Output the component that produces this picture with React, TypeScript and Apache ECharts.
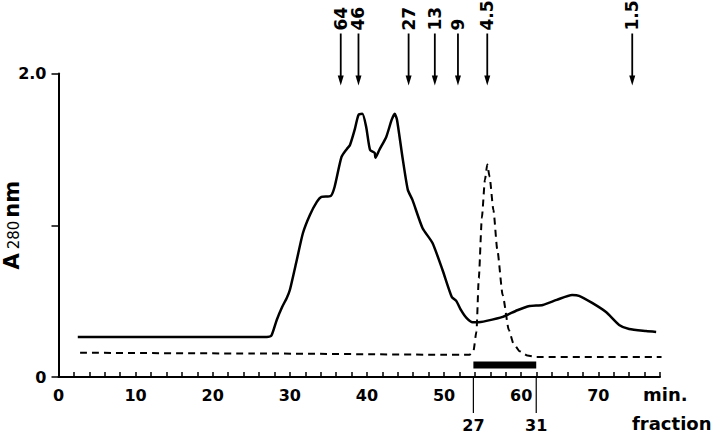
import React, { useEffect, useRef } from "react";
import * as echarts from "echarts";

// Solid trace: A280 vs time (min)
const solidTrace: number[][] = [
  [2.5, 0.264], [27.0, 0.264], [27.6, 0.272], [28.3, 0.376], [29.0, 0.461], [29.6, 0.521],
  [30.0, 0.573], [30.9, 0.771], [31.7, 0.949], [32.6, 1.068], [33.5, 1.154], [34.1, 1.187],
  [35.3, 1.193], [35.8, 1.252], [36.7, 1.45], [37.4, 1.503], [37.8, 1.529], [38.4, 1.628],
  [38.9, 1.727], [39.4, 1.734], [39.9, 1.648], [40.4, 1.496], [41.0, 1.477], [41.1, 1.444],
  [41.6, 1.496], [42.5, 1.582], [43.2, 1.694], [43.6, 1.734], [43.9, 1.694], [44.6, 1.45],
  [45.3, 1.233], [45.9, 1.167], [47.2, 0.982], [48.5, 0.883], [49.8, 0.705], [51.0, 0.527],
  [51.6, 0.5], [52.2, 0.44], [52.9, 0.389], [53.7, 0.36], [54.3, 0.36], [55.5, 0.37],
  [57.6, 0.396], [59.5, 0.44], [61.1, 0.468], [62.8, 0.475], [64.6, 0.508], [66.6, 0.54],
  [67.5, 0.535], [69.2, 0.488], [71.0, 0.428], [72.7, 0.343], [74.0, 0.316], [76.2, 0.303],
  [77.5, 0.297],
];

// Dashed trace
const dashedTrace: number[][] = [
  [2.8, 0.16], [25, 0.155], [50, 0.147], [53.3, 0.146], [53.8, 0.17], [54.2, 0.3],
  [54.5, 0.65], [54.9, 1.05], [55.3, 1.3], [55.6, 1.4], [55.9, 1.32], [56.4, 1.1],
  [56.9, 0.84], [57.6, 0.54], [58.4, 0.31], [59.0, 0.22], [59.8, 0.17], [60.8, 0.142],
  [62.0, 0.132], [70, 0.132], [78.2, 0.132],
];

// Molecular-weight markers (arrows)
const markerTimes: number[] = [36.6, 38.9, 45.4, 48.8, 51.8, 55.6, 74.4];
const markerLabels: string[] = ["64", "46", "27", "13", "9", "4.5", "1.5"];

// Collected fractions
const fractionTimes: number[] = [53.8, 61.95];
const fractionLabels: string[] = ["27", "31"];
const poolBar: number[][] = [[53.8, 0.079], [61.95, 0.079]];

const FONT = "DejaVu Sans";

export default function App() {
  const ref = useRef<HTMLDivElement>(null);
  useEffect(() => {
    if (!ref.current) return;
    const chart = echarts.init(ref.current, null, { renderer: "svg" });
    const option: any = {
      animation: false,
      backgroundColor: "#fff",
      grid: { left: 58.5, right: 60, top: 73.5, bottom: 60, containLabel: false, outerBoundsMode: "none" },
      xAxis: {
        type: "value",
        min: 0,
        max: 78,
        interval: 2,
        axisLine: { show: true, lineStyle: { color: "#000", width: 2 } },
        axisTick: { show: true, inside: true, length: 5, lineStyle: { color: "#000", width: 1.5 } },
        axisLabel: {
          formatter: (v: number) => (v % 10 === 0 ? String(v) : ""),
          fontFamily: FONT,
          fontWeight: "bold",
          fontSize: 16,
          color: "#000",
          margin: 10,
        },
        splitLine: { show: false },
      },
      yAxis: {
        type: "value",
        min: 0,
        max: 2,
        interval: 1,
        axisLine: { show: true, lineStyle: { color: "#000", width: 2 } },
        axisTick: { show: true, length: 7, lineStyle: { color: "#000", width: 1.5 } },
        axisLabel: {
          formatter: (v: number) => (v === 2 ? "2.0" : v === 0 ? "0" : ""),
          fontFamily: FONT,
          fontWeight: "bold",
          fontSize: 16,
          color: "#000",
          margin: 12,
        },
        splitLine: { show: false },
        name: "{a|A}{b|280}{c|nm}",
        nameLocation: "middle",
        nameRotate: 90,
        nameGap: 36,
        nameMoveOverlap: false,
        nameTextStyle: {
          rich: {
            a: { fontFamily: FONT, fontWeight: "bold", fontSize: 21, lineHeight: 21, color: "#000", padding: [0, 4, 0, 0], verticalAlign: "bottom" },
            b: { fontFamily: FONT, fontWeight: "normal", fontSize: 15, lineHeight: 21, color: "#000", padding: [0, 3, 1, 0], verticalAlign: "bottom" },
            c: { fontFamily: FONT, fontWeight: "bold", fontSize: 21, lineHeight: 21, color: "#000", verticalAlign: "bottom" },
          },
        },
      },
      graphic: [
        {
          type: "text",
          left: 643,
          top: 385,
          style: { text: "min.", fontFamily: FONT, fontWeight: "bold", fontSize: 18, fill: "#000" },
        },
        {
          type: "text",
          left: 632,
          top: 414,
          style: { text: "fraction", fontFamily: FONT, fontWeight: "bold", fontSize: 18, fill: "#000" },
        },
      ],
      series: [
        {
          type: "line",
          data: solidTrace,
          symbol: "none",
          smooth: 0.2,
          lineStyle: { color: "#000", width: 2.5 },
          z: 3,
        },
        {
          type: "line",
          data: dashedTrace,
          symbol: "none",
          smooth: 0.2,
          smoothMonotone: "x",
          lineStyle: { color: "#000", width: 2, type: [7, 5] },
          z: 3,
        },
        {
          type: "line",
          data: poolBar,
          symbol: "none",
          lineStyle: { color: "#000", width: 7, cap: "butt" },
          z: 4,
        },
        {
          type: "custom",
          data: markerTimes.map((t) => [t, 2]),
          encode: { x: 0, y: 1 },
          clip: false,
          z: 5,
          renderItem: (params: any, api: any) => {
            const p = api.coord([api.value(0), api.value(1)]);
            const x = p[0];
            const top = p[1] - 40;
            const tip = p[1] + 12;
            return {
              type: "group",
              children: [
                { type: "line", shape: { x1: x, y1: top, x2: x, y2: tip - 6 }, style: { stroke: "#000", lineWidth: 1.8 } },
                {
                  type: "polygon",
                  shape: { points: [[x - 3, tip - 10], [x + 3, tip - 10], [x, tip]] },
                  style: { fill: "#000" },
                },
                {
                  type: "text",
                  x: x,
                  y: top - 3,
                  rotation: Math.PI / 2,
                  style: {
                    text: markerLabels[params.dataIndex],
                    fontFamily: FONT,
                    fontWeight: "bold",
                    fontSize: 17,
                    fill: "#000",
                    align: "left",
                    verticalAlign: "middle",
                  },
                },
              ],
            };
          },
        },
        {
          type: "custom",
          data: fractionTimes.map((t) => [t, 0]),
          encode: { x: 0, y: 1 },
          clip: false,
          z: 5,
          renderItem: (params: any, api: any) => {
            const p = api.coord([api.value(0), api.value(1)]);
            const x = p[0];
            const y0 = p[1];
            return {
              type: "group",
              children: [
                { type: "line", shape: { x1: x, y1: y0, x2: x, y2: y0 + 36 }, style: { stroke: "#000", lineWidth: 1.2 } },
                {
                  type: "text",
                  x: x,
                  y: y0 + 48,
                  style: {
                    text: fractionLabels[params.dataIndex],
                    fontFamily: FONT,
                    fontWeight: "bold",
                    fontSize: 16,
                    fill: "#000",
                    align: "center",
                    verticalAlign: "middle",
                  },
                },
              ],
            };
          },
        },
      ],
    };
    chart.setOption(option);
    return () => chart.dispose();
  }, []);
  return (
    <div
      ref={ref}
      style={{ position: "fixed", left: 0, top: 0, width: 720, height: 437, background: "#fff" }}
    />
  );
}
